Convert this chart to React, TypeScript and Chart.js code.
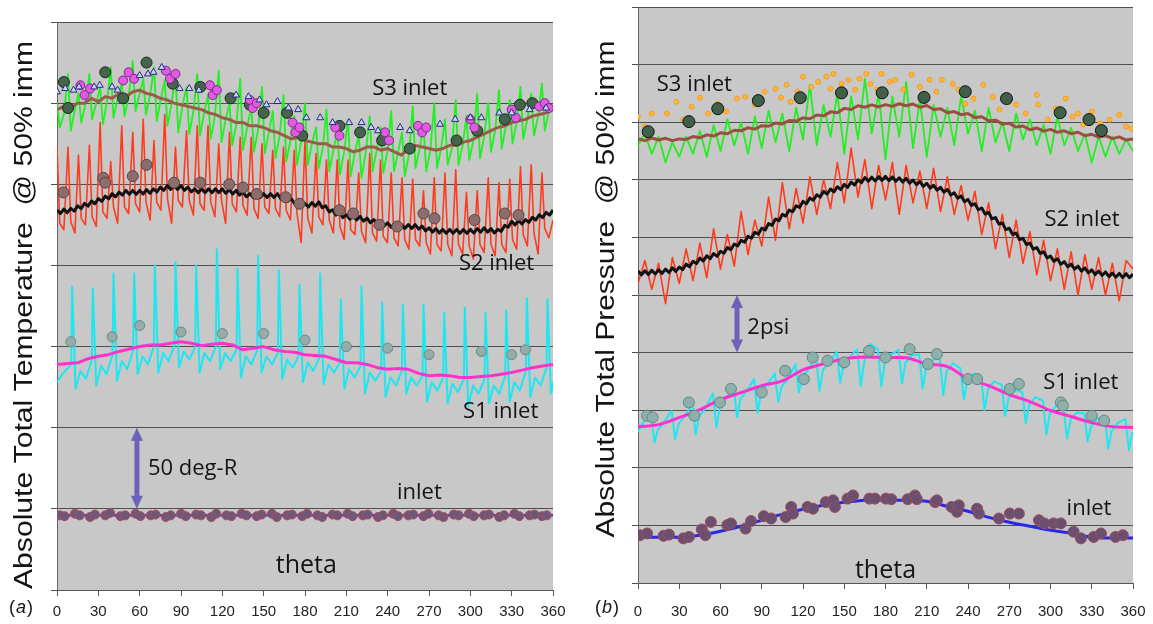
import React, { useEffect, useRef } from "react";
import { Chart, registerables } from "chart.js";

Chart.register(...registerables);

// ---------------- shared ----------------
const thetaTicks = [0, 30, 60, 90, 120, 150, 180, 210, 240, 270, 300, 330, 360];
const tempGridTicks = [0, 50, 100, 150, 200, 250, 300, 350]; // deg-R above axis bottom
const pressGridTicks = [0, 2, 4, 6, 8, 10, 12, 14, 16, 18, 20]; // psi above axis bottom

// ---------------- (a) temperature, deg-R ----------------
// inlet
const tInletLine = [46, 46, 46, 46, 46, 46, 46, 46, 46, 46, 46, 46, 46]; // every 30 deg
const tInletDotX = [2, 5.5, 13, 16.5, 24, 27.5, 35, 38.5, 46, 49.5, 57, 60.5, 68, 71.5, 79, 82.5, 90, 93.5, 101, 104.5, 112, 115.5, 123, 126.5, 134, 137.5, 145, 148.5, 156, 159.5, 167, 170.5, 178, 181.5, 189, 192.5, 200, 203.5, 211, 214.5, 222, 225.5, 233, 236.5, 244, 247.5, 255, 258.5, 266, 269.5, 277, 280.5, 288, 291.5, 299, 302.5, 310, 313.5, 321, 324.5, 332, 335.5, 343, 346.5, 352, 355.5];
const tInletDotY = [46, 45.5, 47, 46, 45, 46.5, 46, 47.5, 45.5, 46, 47, 45.5, 46, 46.5, 45, 46, 47, 45.5, 46.5, 46, 45, 47, 46, 45.5, 47, 46, 45.5, 46.5, 47, 45, 46, 46.5, 45.5, 47, 46, 45, 46.5, 46, 47, 45.5, 46, 46.5, 45, 46, 47, 45.5, 46, 46.5, 45.5, 47, 46, 45, 46.5, 46, 47, 45.5, 46, 46.5, 45, 46, 47, 45.5, 46, 46.5, 45.5, 46];
// S1
const tS1Avg = [139, 139.5, 140, 142.5, 144, 145, 147, 148.5, 150, 151, 151, 152, 153, 152, 150.5, 151.5, 152, 151, 148, 149, 150, 148, 147, 146.5, 145, 144.5, 144, 142, 140, 140, 139, 137, 136, 136.5, 136, 133.5, 132, 132.5, 132, 131, 131, 131.5, 132, 133, 134, 135.5, 137, 138, 139]; // every 7.5 deg
const tS1ProbeX = [0, 4, 10.3, 11, 13.5, 17, 21, 25.3, 26, 28.5, 32, 36, 40.3, 41, 43.5, 47, 51, 55.3, 56, 58.5, 62, 66, 70.3, 71, 73.5, 77, 81, 85.3, 86, 88.5, 92, 96, 100.3, 101, 103.5, 107, 111, 115.3, 116, 118.5, 122, 126, 130.3, 131, 133.5, 137, 141, 145.3, 146, 148.5, 152, 156, 160.3, 161, 163.5, 167, 171, 175.3, 176, 178.5, 182, 186, 190.3, 191, 193.5, 197, 201, 205.3, 206, 208.5, 212, 216, 220.3, 221, 223.5, 227, 231, 235.3, 236, 238.5, 242, 246, 250.3, 251, 253.5, 257, 261, 265.3, 266, 268.5, 272, 276, 280.3, 281, 283.5, 287, 291, 295.3, 296, 298.5, 302, 306, 310.3, 311, 313.5, 317, 321, 325.3, 326, 328.5, 332, 336, 340.3, 341, 343.5, 347, 351, 355.3, 356, 358.5, 360];
const tS1ProbeY = [128, 133, 139, 187, 124, 135, 130, 142, 186, 126, 138, 133, 145, 195, 129, 141, 136, 148, 195, 133, 144, 139, 150, 200, 134, 146, 141, 151, 202, 137, 147, 142, 150, 200, 134, 146, 141, 150, 210, 136, 146, 141, 148, 198, 131, 144, 139, 148, 206, 134, 144, 139, 146, 197, 130, 142, 137, 144, 188, 128, 140, 135, 143, 195, 127, 139, 134, 140, 179, 124, 136, 131, 138, 187, 121, 134, 129, 135, 177, 119, 131, 126, 135, 176, 121, 131, 126, 132, 176, 116, 128, 123, 131, 171, 115, 127, 122, 130, 174, 113, 126, 121, 130, 171, 115, 126, 121, 132, 172, 116, 128, 123, 135, 180, 119, 131, 126, 137, 179, 121, 128];
const tS1RakeX = [10, 40, 60, 90, 120, 150, 180, 210, 240, 270, 308, 330, 340];
const tS1RakeY = [153, 156, 163, 159, 158, 158, 154, 150, 149, 145, 147, 145, 148];
// S2
const tS2Avg = [234.2, 232, 234.7, 232.5, 235.2, 233.5, 236.7, 235, 238.2, 236.5, 239.7, 238, 241.2, 239.5, 242.7, 241, 244.2, 242.3, 245.2, 243.3, 246.2, 243.8, 246.2, 243.8, 246.2, 244, 246.7, 244.5, 247.2, 245.3, 248.2, 246.3, 249.2, 246.8, 249.2, 246.8, 249.2, 246.3, 248.2, 245.3, 247.2, 244.8, 247.2, 244.8, 247.2, 244.8, 247.2, 244.8, 247.2, 244.5, 246.7, 244, 246.2, 243.3, 245.2, 242.3, 244.2, 241.8, 244.2, 241.8, 244.2, 241.8, 244.2, 241.8, 244.2, 241, 242.7, 239.5, 241.2, 238, 239.7, 236.5, 238.2, 236, 238.7, 236.5, 239.2, 235.5, 236.7, 233, 234.2, 231, 232.7, 229.5, 231.2, 228.5, 230.7, 228, 230.2, 227.3, 229.2, 226.3, 228.2, 225.3, 227.2, 224.3, 226.2, 223.5, 225.7, 223, 225.2, 222.8, 225.2, 222.8, 225.2, 222.3, 224.2, 221.3, 223.2, 220.5, 222.7, 220, 222.2, 219.8, 222.2, 219.8, 222.2, 219.8, 222.2, 219.8, 222.2, 220, 222.7, 220.5, 223.2, 220.5, 222.7, 220, 222.2, 221, 224.7, 223.5, 227.2, 225, 227.7, 225.5, 228.2, 226.5, 229.7, 228, 231.2, 229.5, 232.7, 231, 234.2]; // every 2.5 deg
const tProbeX = [0, 2, 5, 8, 10, 13, 15.6, 17.6, 20.6, 23.5, 25.5, 28.5, 31.3, 33.3, 36.3, 39, 41, 44, 47, 49, 52, 55, 57, 60, 62.6, 64.6, 67.6, 70.4, 72.4, 75.4, 78.2, 80.2, 83.2, 86, 88, 91, 94, 96, 99, 101.8, 103.8, 106.8, 109.6, 111.6, 114.6, 117.4, 119.4, 122.4, 125.2, 127.2, 130.2, 133, 135, 138, 141, 143, 146, 148.8, 150.8, 153.8, 156.6, 158.6, 161.6, 164.4, 166.4, 169.4, 172.2, 174.2, 177.2, 180, 182, 185, 188, 190, 193, 195.6, 197.6, 200.6, 203.4, 205.4, 208.4, 211.2, 213.2, 216.2, 219, 221, 224, 227, 229, 232, 234.8, 236.8, 239.8, 242.6, 244.6, 247.6, 250.4, 252.4, 255.4, 258.2, 260.2, 263.2, 266, 268, 271, 273.8, 275.8, 278.8, 281.6, 283.6, 286.6, 289.4, 291.4, 294.4, 297.2, 299.2, 302.2, 305, 307, 310, 313, 315, 318, 320.8, 322.8, 325.8, 328.6, 330.6, 333.6, 336.4, 338.4, 341.4, 344.2, 346.2, 349.2, 352, 354, 357, 360];
const tS2ProbeY = [273, 226, 222, 273, 227, 220, 268, 229, 225, 274, 230, 224, 288, 233, 229, 264, 236, 226, 286, 236, 232, 282, 238, 233, 290, 239, 228, 277, 239, 234, 293, 241, 226, 273, 240, 236, 283, 240, 231, 286, 238, 234, 286, 239, 230, 275, 240, 226, 282, 238, 233, 279, 237, 231, 279, 235, 229, 275, 236, 232, 271, 235, 230, 273, 234, 228, 271, 232, 214, 277, 229, 220, 269, 230, 225, 265, 228, 220, 265, 224, 216, 265, 222, 219, 257, 221, 214, 269, 220, 215, 265, 218, 214, 257, 217, 212, 254, 216, 210, 253, 216, 212, 246, 214, 207, 254, 213, 209, 257, 213, 206, 259, 213, 207, 245, 212, 204, 246, 213, 208, 254, 213, 206, 251, 213, 208, 253, 216, 210, 261, 219, 212, 262, 220, 207, 257, 223, 217, 228];
const tS2RakeX = [4.6, 33.6, 35, 55, 65, 85, 104, 125, 135, 145, 166, 176, 205, 215, 234, 247, 266, 274, 303, 325, 335];
const tS2RakeY = [245, 254, 251, 255, 262, 251, 251, 250, 248, 244, 242, 238, 234, 232, 225, 224, 232, 229, 228, 232, 231];
// S3
const tS3Avg = [296, 298, 297, 300, 300, 303, 301, 304, 303, 306, 304, 307, 308, 306, 305, 303, 302, 300, 299, 298, 297, 296, 294, 293, 291, 290, 288, 288, 286, 286, 285, 283, 282, 280, 278, 279, 277, 276, 275, 275, 273, 273, 272, 270, 271, 273, 273, 271, 272, 270, 268, 272, 274, 273, 272, 271, 272, 274, 274, 276, 277, 279, 281, 283, 285, 286, 288, 289, 290, 292, 293, 294, 296]; // every 5 deg
const tS3ProbeY = [300, 285, 293, 318, 283, 296, 306, 288, 299, 318, 290, 300, 310, 287, 301, 322, 291, 303, 312, 292, 304, 326, 295, 306, 315, 293, 305, 322, 289, 303, 314, 286, 300, 318, 282, 298, 310, 281, 295, 318, 280, 294, 305, 278, 292, 320, 276, 290, 300, 274, 287, 315, 271, 285, 298, 270, 284, 310, 269, 282, 295, 266, 280, 305, 264, 277, 292, 262, 276, 300, 262, 275, 285, 260, 273, 296, 258, 271, 282, 256, 270, 290, 255, 270, 280, 254, 269, 292, 258, 271, 285, 257, 270, 295, 258, 270, 282, 255, 268, 298, 260, 272, 286, 258, 271, 300, 260, 272, 290, 262, 272, 302, 262, 274, 292, 265, 277, 306, 266, 279, 300, 270, 283, 308, 272, 286, 302, 275, 288, 310, 278, 290, 306, 280, 292, 312, 283, 295, 296];
const tS3RakeAX = [5, 8, 35, 48, 65, 84, 104, 126, 140, 150, 167, 178, 205, 220, 236, 256, 290, 305, 325, 336, 345];
const tS3RakeAY = [313, 297, 319, 303, 325, 312, 310, 303, 299, 294, 294, 280, 286, 282, 277, 272, 277, 283, 290, 299, 300];
const tS3RakeBX = [17, 20, 24, 48, 52, 56, 79, 82, 86, 111, 113, 116, 140, 142, 145, 171, 173, 176, 202, 205, 238, 241, 262, 265, 268, 300, 303, 330, 333, 350, 354, 357];
const tS3RakeBY = [311, 305, 309, 314, 319, 315, 320, 315, 318, 311, 305, 308, 302, 297, 300, 288, 282, 285, 285, 280, 282, 277, 286, 282, 285, 290, 285, 296, 291, 298, 300, 297];
const tS3RakeCX = [0, 6, 12, 16, 27, 31, 40, 44, 60, 66, 70, 76, 89, 96, 103, 130, 139, 147, 152, 160, 168, 175, 181, 191, 200, 212, 221, 228, 233, 249, 256, 278, 289, 300, 308, 321, 330, 343, 355];
const tS3RakeCY = [307, 309, 308, 310, 310, 311, 310, 308, 317, 318, 319, 322, 309, 309, 308, 305, 304, 302, 299, 301, 297, 296, 291, 291, 288, 288, 288, 285, 283, 285, 283, 287, 290, 291, 291, 294, 294, 296, 297];

// ---------------- (b) pressure, psi ----------------
const pInletLine = [1.59, 1.59, 1.59, 1.66, 1.8, 1.97, 2.18, 2.39, 2.56, 2.7, 2.8, 2.87, 2.87, 2.87, 2.84, 2.66, 2.49, 2.28, 2.11, 1.97, 1.83, 1.73, 1.59, 1.56, 1.56]; // every 15 deg
const pInletDotX = [1.3, 6.6, 18.6, 22.5, 33, 37.1, 46.4, 49, 53, 65, 67.6, 78.2, 82.2, 91.5, 96.8, 107.4, 111.4, 112.7, 123.3, 127.3, 136.6, 141.9, 143.2, 152.4, 156.4, 168.3, 172.3, 180.3, 184.2, 196.2, 201.4, 202.8, 216.1, 217.4, 228, 232, 233.3, 246.6, 247.9, 262.5, 270.4, 277, 291.6, 295.6, 302.2, 307.5, 316.8, 322.1, 331.4, 336.7, 347.3, 352.6];
const pInletDotY = [1.66, 1.72, 1.64, 1.68, 1.55, 1.6, 1.86, 1.66, 2.12, 2.01, 2.07, 1.89, 2.15, 2.32, 2.24, 2.29, 2.64, 2.41, 2.64, 2.58, 2.81, 2.87, 2.64, 2.93, 3.04, 2.93, 2.93, 2.93, 2.91, 2.91, 3.04, 2.91, 2.81, 2.87, 2.64, 2.47, 2.7, 2.58, 2.41, 2.24, 2.41, 2.41, 2.18, 2.07, 2.07, 2.07, 1.78, 1.55, 1.6, 1.72, 1.6, 1.66];
const pS1Avg = [5.43, 5.5, 5.74, 6.02, 6.37, 6.61, 6.85, 7.02, 7.4, 7.61, 7.79, 7.85, 7.82, 7.82, 7.61, 7.51, 7.09, 6.85, 6.54, 6.3, 5.99, 5.78, 5.57, 5.43, 5.4]; // every 15 deg
const pS1ProbeX = [0, 4, 9.5, 12, 14.5, 19, 24.5, 27, 29.5, 34, 39.5, 42, 44.5, 49, 54.5, 57, 59.5, 64, 69.5, 72, 74.5, 79, 84.5, 87, 89.5, 94, 99.5, 102, 104.5, 109, 114.5, 117, 119.5, 124, 129.5, 132, 134.5, 139, 144.5, 147, 149.5, 154, 159.5, 162, 164.5, 169, 174.5, 177, 179.5, 184, 189.5, 192, 194.5, 199, 204.5, 207, 209.5, 214, 219.5, 222, 224.5, 229, 234.5, 237, 239.5, 244, 249.5, 252, 254.5, 259, 264.5, 267, 269.5, 274, 279.5, 282, 284.5, 289, 294.5, 297, 299.5, 304, 309.5, 312, 314.5, 319, 324.5, 327, 329.5, 334, 339.5, 342, 344.5, 349, 354.5, 357, 359.5];
const pS1ProbeY = [5.25, 5.6, 5.77, 4.89, 5.32, 5.59, 5.97, 4.99, 5.52, 5.79, 6.24, 5.16, 5.79, 6.06, 6.58, 5.4, 6.13, 6.4, 6.84, 5.76, 6.39, 6.66, 7.08, 5.9, 6.63, 6.9, 7.27, 6.29, 6.82, 7.09, 7.6, 6.62, 7.15, 7.42, 7.85, 6.67, 7.4, 7.67, 8.03, 6.95, 7.58, 7.85, 8.12, 6.84, 7.67, 8.3, 8.11, 6.83, 7.66, 7.93, 8.1, 6.92, 7.65, 7.92, 7.93, 6.75, 7.48, 7.75, 7.81, 6.53, 7.36, 7.63, 7.45, 6.37, 7.0, 7.27, 7.18, 6.0, 6.73, 7.0, 6.88, 5.8, 6.43, 6.7, 6.63, 5.55, 6.18, 6.45, 6.33, 5.15, 5.88, 6.15, 6.1, 5.02, 5.65, 5.92, 5.89, 4.91, 5.44, 5.71, 5.74, 4.66, 5.29, 5.56, 5.69, 4.61, 5.24];
const pS1RakeX = [6.6, 10.6, 37, 41, 59.6, 67.6, 90, 107, 120.6, 127, 137.9, 150, 168, 180, 197.5, 210.8, 217.4, 240, 246.6, 270.4, 277, 307.5, 309, 330, 339];
const pS1RakeY = [5.81, 5.75, 6.27, 5.81, 6.27, 6.74, 6.62, 7.37, 7.08, 7.83, 7.72, 7.66, 8.06, 7.83, 8.12, 7.6, 7.95, 7.08, 7.08, 6.74, 6.91, 6.27, 6.16, 5.81, 5.64];
const pS2Avg = [10.83, 10.7, 10.84, 10.71, 10.86, 10.73, 10.87, 10.75, 10.9, 10.78, 10.94, 10.82, 10.97, 10.88, 11.07, 10.98, 11.17, 11.09, 11.28, 11.18, 11.36, 11.26, 11.44, 11.34, 11.52, 11.45, 11.65, 11.57, 11.77, 11.7, 11.9, 11.83, 12.04, 11.97, 12.18, 12.11, 12.32, 12.26, 12.48, 12.42, 12.64, 12.58, 12.8, 12.74, 12.95, 12.89, 13.1, 13.04, 13.25, 13.17, 13.37, 13.29, 13.48, 13.4, 13.6, 13.5, 13.68, 13.58, 13.76, 13.66, 13.84, 13.74, 13.92, 13.82, 14.0, 13.9, 14.08, 13.95, 14.09, 13.96, 14.11, 13.98, 14.12, 13.97, 14.1, 13.95, 14.07, 13.92, 14.05, 13.88, 13.99, 13.83, 13.94, 13.77, 13.88, 13.71, 13.81, 13.64, 13.74, 13.57, 13.67, 13.47, 13.55, 13.36, 13.44, 13.24, 13.32, 13.11, 13.17, 12.96, 13.02, 12.81, 12.87, 12.64, 12.69, 12.46, 12.5, 12.27, 12.32, 12.1, 12.15, 11.92, 11.97, 11.75, 11.8, 11.59, 11.65, 11.44, 11.5, 11.29, 11.35, 11.17, 11.26, 11.07, 11.16, 10.98, 11.07, 10.9, 11.0, 10.83, 10.94, 10.77, 10.87, 10.71, 10.83, 10.68, 10.8, 10.64, 10.76, 10.62, 10.75, 10.61, 10.74, 10.6, 10.73]; // every 2.5 deg
const pS2Probe = [10.4, 11.2, 10.2, 11.1, 9.7, 11.3, 10.4, 11.6, 10.5, 11.8, 10.6, 12.3, 10.9, 12.1, 11.0, 12.9, 11.4, 12.6, 11.7, 13.4, 11.9, 13.9, 12.3, 13.7, 12.5, 14.1, 12.8, 14.0, 13.0, 14.6, 13.2, 15.1, 13.4, 14.7, 13.0, 14.5, 13.3, 14.6, 12.8, 14.5, 13.2, 14.3, 13.0, 14.4, 12.9, 14.1, 12.8, 13.8, 12.6, 13.6, 12.1, 13.2, 11.6, 12.8, 11.3, 12.6, 11.1, 12.2, 10.7, 11.9, 10.5, 11.6, 10.2, 11.5, 10.0, 11.4, 10.2, 11.3, 10.0, 11.1, 9.8, 11.2, 10.9]; // every 5 deg
const pS3Avg = [15.43, 15.36, 15.45, 15.38, 15.44, 15.36, 15.42, 15.4, 15.5, 15.46, 15.56, 15.52, 15.63, 15.6, 15.72, 15.7, 15.81, 15.76, 15.88, 15.86, 15.97, 15.94, 16.06, 16.04, 16.15, 16.12, 16.25, 16.22, 16.36, 16.33, 16.48, 16.44, 16.57, 16.52, 16.6, 16.53, 16.61, 16.55, 16.64, 16.57, 16.63, 16.52, 16.58, 16.44, 16.47, 16.33, 16.37, 16.26, 16.3, 16.16, 16.19, 16.05, 16.07, 15.94, 15.96, 15.83, 15.87, 15.74, 15.8, 15.69, 15.75, 15.65, 15.7, 15.6, 15.65, 15.53, 15.58, 15.48, 15.53, 15.43, 15.49, 15.38, 15.42]; // every 5 deg
const pS3Probe = [15.2, 15.6, 14.9, 15.5, 14.6, 15.3, 14.8, 15.5, 14.9, 15.7, 14.8, 15.9, 15.0, 16.1, 15.2, 16.0, 14.9, 16.2, 15.1, 16.4, 15.3, 16.3, 15.0, 16.5, 15.4, 17.3, 15.2, 16.6, 15.5, 17.0, 14.9, 16.9, 15.4, 17.5, 15.6, 17.0, 14.7, 16.9, 15.5, 17.4, 15.1, 16.8, 14.8, 16.6, 15.5, 16.5, 15.2, 16.9, 15.6, 16.4, 15.0, 16.5, 15.3, 16.0, 15.0, 16.3, 15.4, 16.1, 15.2, 15.9, 14.9, 16.2, 15.2, 15.8, 15.0, 15.6, 14.6, 15.5, 14.8, 15.5, 14.9, 15.4, 15.0]; // every 5 deg
const pS3RakeAX = [7.4, 37, 58, 87.5, 118, 148, 177.6, 208, 238, 268, 307, 328, 337];
const pS3RakeAY = [15.67, 16.02, 16.47, 16.75, 16.85, 17.02, 17.02, 16.86, 17.06, 16.82, 16.33, 16.09, 15.71];
const pS3RakeBX = [0, 5, 10, 21, 28, 33, 39, 45, 51, 58, 64, 72, 78, 85, 92, 100, 104, 108, 111, 116, 120, 126, 131, 137, 140, 142, 148, 153, 158, 161, 166, 169, 174, 177, 183, 187, 193, 199, 205, 212, 217, 221, 229, 233, 238, 244, 251, 258, 263, 270, 275, 282, 290, 291, 298, 304, 311, 316, 320, 324, 330, 336, 343, 350, 355, 359];
const pS3RakeBY = [16.19, 15.85, 16.3, 16.3, 16.71, 16.09, 16.54, 16.85, 16.3, 16.64, 16.37, 16.82, 16.88, 16.61, 17.06, 17.16, 16.85, 17.3, 16.71, 17.06, 17.58, 17.23, 17.4, 17.58, 17.16, 17.68, 17.33, 17.47, 17.13, 17.51, 17.68, 17.33, 17.13, 17.68, 17.4, 17.47, 17.13, 17.65, 17.23, 17.47, 17.06, 17.47, 17.33, 17.13, 16.64, 16.82, 17.3, 16.88, 16.44, 16.71, 16.61, 16.3, 16.95, 16.61, 16.09, 16.47, 16.82, 16.19, 16.3, 15.92, 16.37, 15.95, 16.09, 16.26, 15.85, 15.78];

// ---------------- helpers ----------------
type P = { x: number; y: number };
const onGrid = (start: number, step: number, ys: number[]): P[] => ys.map((y, i) => ({ x: start + i * step, y }));
const zipXY = (xs: number[], ys: number[]): P[] => xs.map((x, i) => ({ x, y: ys[i] }));

const lineDs = (data: P[], color: string, width: number, order: number, tension = 0) => ({
  data, borderColor: color, backgroundColor: color, borderWidth: width, showLine: true,
  pointRadius: 0, tension, order, borderJoinStyle: "round" as const,
});
const dotDs = (data: P[], fill: string, stroke: string, r: number, order: number, style = "circle") => ({
  data, showLine: false, pointRadius: r, pointBackgroundColor: fill, pointBorderColor: stroke,
  pointBorderWidth: 1, pointStyle: style, order,
});

const LABEL_FONT = "'Open Sans', 'Noto Sans', sans-serif";
const TITLE_FONT = "'Liberation Sans', Arial, sans-serif";

type Label = { text: string; x: number; y: number; size: number; align?: CanvasTextAlign };
type Panel = {
  width: number; height: number;
  area: { left: number; right: number; top: number; bottom: number };
  yMax: number; yTicks: number[]; xPad: number;
  datasets: any[]; labels: Label[];
  arrow: { x: number; from: number; to: number };
  title: { text: string; baseX: number; cy: number; length: number };
  tag: { x: number; y: number; letter: string };
};

const panelA: Panel = {
  width: 580, height: 624,
  area: { left: 57, right: 553, top: 22, bottom: 590 },
  yMax: 350, yTicks: tempGridTicks, xPad: 7,
  datasets: [
    dotDs(zipXY(tS3RakeCX, tS3RakeCY), "#c9d2ff", "#2a2a7a", 4, 1, "triangle"),
    dotDs(zipXY(tS3RakeBX, tS3RakeBY), "#e25ae2", "#7a2a8a", 4.5, 1),
    dotDs(zipXY(tS3RakeAX, tS3RakeAY), "#45644c", "#1a2a1a", 5.5, 1),
    dotDs(zipXY(tS2RakeX, tS2RakeY), "#8c6c6c", "#5a4444", 5.5, 1),
    dotDs(zipXY(tS1RakeX, tS1RakeY), "#96aca8", "#6a8a84", 5, 1),
    dotDs(zipXY(tInletDotX, tInletDotY), "#6e5878", "#b04a5a", 4.5, 1),
    lineDs(onGrid(0, 5, tS3Avg), "#9c5a48", 3, 2),
    lineDs(onGrid(0, 2.5, tS2Avg), "#111111", 3, 2),
    lineDs(onGrid(0, 7.5, tS1Avg), "#ff33cc", 3, 2),
    lineDs(onGrid(0, 30, tInletLine), "#3a3ae0", 2.5, 2),
    lineDs(zipXY(tProbeX, tS3ProbeY), "#22f022", 1.8, 3),
    lineDs(zipXY(tProbeX, tS2ProbeY), "#ff3b1f", 1.6, 3),
    lineDs(zipXY(tS1ProbeX, tS1ProbeY), "#1ee6f0", 2, 3),
  ],
  labels: [
    { text: "S3 inlet", x: 256, y: 309, size: 22 },
    { text: "S2 inlet", x: 319, y: 201, size: 22 },
    { text: "S1 inlet", x: 322, y: 110, size: 22 },
    { text: "inlet", x: 263, y: 60, size: 22 },
    { text: "50 deg-R", x: 66, y: 75, size: 22, align: "left" },
    { text: "theta", x: 181, y: 15, size: 25 },
  ],
  arrow: { x: 58, from: 50, to: 100 },
  title: { text: "Absolute Total Temperature  @ 50% imm", baseX: 32, cy: 315, length: 548 },
  tag: { x: 9, y: 608, letter: "a" },
};

const panelB: Panel = {
  width: 573, height: 624,
  area: { left: 58, right: 553, top: 5, bottom: 583 },
  yMax: 20, yTicks: pressGridTicks, xPad: 14,
  datasets: [
    dotDs(zipXY(pS3RakeAX, pS3RakeAY), "#40604a", "#111111", 6, 1),
    dotDs(zipXY(pS3RakeBX, pS3RakeBY), "#ffb43a", "#f5a020", 2.5, 1),
    dotDs(zipXY(pS1RakeX, pS1RakeY), "#8fb0aa", "#5a8a84", 5.5, 1),
    dotDs(zipXY(pInletDotX, pInletDotY), "#6a5070", "#a04a5a", 5.5, 1),
    lineDs(onGrid(0, 5, pS3Avg), "#9a5040", 3, 2),
    lineDs(onGrid(0, 2.5, pS2Avg), "#111111", 3, 2),
    lineDs(onGrid(0, 15, pS1Avg), "#ff30d0", 3, 2, 0.3),
    lineDs(onGrid(0, 15, pInletLine), "#2828e8", 3, 2, 0.3),
    lineDs(onGrid(0, 5, pS3Probe), "#22ee22", 1.8, 3),
    lineDs(onGrid(0, 5, pS2Probe), "#ff3a1a", 1.6, 3),
    lineDs(zipXY(pS1ProbeX, pS1ProbeY), "#20e6f0", 2, 3),
  ],
  labels: [
    { text: "S3 inlet", x: 41, y: 17.29, size: 22 },
    { text: "S2 inlet", x: 323, y: 12.62, size: 22 },
    { text: "S1 inlet", x: 322, y: 6.97, size: 22 },
    { text: "inlet", x: 328, y: 2.58, size: 22 },
    { text: "2psi", x: 79.5, y: 8.87, size: 22, align: "left" },
    { text: "theta", x: 180, y: 0.43, size: 25 },
  ],
  arrow: { x: 72, from: 8, to: 10 },
  title: { text: "Absolute Total Pressure  @ 50% imm", baseX: 34, cy: 289, length: 497 },
  tag: { x: 15, y: 608, letter: "b" },
};

function makeDecor(p: Panel) {
  return {
    id: "decor",
    beforeDraw(chart: any) {
      const { ctx, chartArea } = chart;
      ctx.save();
      ctx.fillStyle = "#fff";
      ctx.fillRect(0, 0, chart.width, chart.height);
      ctx.fillStyle = "#c8c8c8";
      ctx.fillRect(chartArea.left, chartArea.top, chartArea.right - chartArea.left, chartArea.bottom - chartArea.top);
      ctx.restore();
    },
    afterDraw(chart: any) {
      const { ctx } = chart;
      const xs = chart.scales.x, ys = chart.scales.y;
      ctx.save();
      // labels
      ctx.fillStyle = "#141414";
      ctx.textBaseline = "middle";
      for (const t of p.labels) {
        ctx.font = `${t.size}px ${LABEL_FONT}`;
        ctx.textAlign = t.align || "center";
        ctx.fillText(t.text, xs.getPixelForValue(t.x), ys.getPixelForValue(t.y));
      }
      // double arrow
      const ax = xs.getPixelForValue(p.arrow.x);
      const yTop = ys.getPixelForValue(p.arrow.to);
      const yBot = ys.getPixelForValue(p.arrow.from);
      const head = 13, hw = 6;
      ctx.fillStyle = "#6c62b8";
      ctx.fillRect(ax - 2.5, yTop + head - 1, 5, yBot - yTop - 2 * head + 2);
      ctx.beginPath();
      ctx.moveTo(ax, yTop); ctx.lineTo(ax - hw, yTop + head); ctx.lineTo(ax + hw, yTop + head); ctx.closePath();
      ctx.fill();
      ctx.beginPath();
      ctx.moveTo(ax, yBot); ctx.lineTo(ax - hw, yBot - head); ctx.lineTo(ax + hw, yBot - head); ctx.closePath();
      ctx.fill();
      // y-axis title, rotated
      ctx.save();
      ctx.translate(p.title.baseX, p.title.cy);
      ctx.rotate(-Math.PI / 2);
      ctx.font = `26px ${TITLE_FONT}`;
      const w = ctx.measureText(p.title.text).width;
      ctx.scale(p.title.length / w, 1);
      ctx.textAlign = "center";
      ctx.textBaseline = "alphabetic";
      ctx.fillStyle = "#141414";
      ctx.fillText(p.title.text, 0, 0);
      ctx.restore();
      // panel tag "(a)" / "(b)"
      ctx.textAlign = "left";
      ctx.textBaseline = "middle";
      ctx.fillStyle = "#141414";
      let tx = p.tag.x;
      ctx.font = `18px ${TITLE_FONT}`;
      ctx.fillText("(", tx, p.tag.y); tx += ctx.measureText("(").width + 1;
      ctx.font = `italic 18px ${TITLE_FONT}`;
      ctx.fillText(p.tag.letter, tx, p.tag.y); tx += ctx.measureText(p.tag.letter).width + 1;
      ctx.font = `18px ${TITLE_FONT}`;
      ctx.fillText(")", tx, p.tag.y);
      ctx.restore();
    },
  };
}

function makeConfig(p: Panel): any {
  return {
    type: "scatter",
    data: { datasets: p.datasets },
    options: {
      animation: false,
      responsive: false,
      devicePixelRatio: 1,
      events: [],
      layout: { padding: { left: 0, top: p.area.top, right: p.width - p.area.right, bottom: 0 } },
      plugins: { legend: { display: false }, tooltip: { enabled: false } },
      scales: {
        x: {
          type: "linear", min: 0, max: 360,
          afterBuildTicks: (s: any) => { s.ticks = thetaTicks.map((v) => ({ value: v })); },
          afterFit: (s: any) => {
            s.height = p.height - p.area.bottom;
            s.paddingLeft = 0;
            s.paddingRight = 0;
          },
          grid: { drawOnChartArea: false, drawTicks: true, tickLength: 6, color: "#555" },
          border: { display: true, color: "#555", width: 1 },
          ticks: {
            autoSkip: false, maxRotation: 0, minRotation: 0, padding: p.xPad, color: "#222",
            font: { family: "'Liberation Sans Narrow', 'Liberation Sans', Arial, sans-serif", size: 15 },
          },
        },
        y: {
          type: "linear", min: 0, max: p.yMax,
          afterBuildTicks: (s: any) => { s.ticks = p.yTicks.map((v) => ({ value: v })); },
          afterFit: (s: any) => { s.width = p.area.left; },
          grid: { drawOnChartArea: true, drawTicks: true, tickLength: 6, color: "#4f4f4f", lineWidth: 1 },
          border: { display: true, color: "#666", width: 1 },
          ticks: { display: false },
        },
      },
    },
    plugins: [makeDecor(p)],
  };
}

function PanelChart({ p, left }: { p: Panel; left: number }) {
  const ref = useRef<HTMLCanvasElement | null>(null);
  useEffect(() => {
    if (!ref.current) return;
    const chart = new Chart(ref.current, makeConfig(p));
    return () => chart.destroy();
  }, [p]);
  return (
    <canvas
      ref={ref}
      width={p.width}
      height={p.height}
      style={{ position: "absolute", left, top: 0, width: p.width, height: p.height }}
    />
  );
}

export default function App() {
  return (
    <div style={{ position: "fixed", left: 0, top: 0, width: 1153, height: 624, background: "#fff", overflow: "hidden" }}>
      <PanelChart p={panelA} left={0} />
      <PanelChart p={panelB} left={580} />
    </div>
  );
}
